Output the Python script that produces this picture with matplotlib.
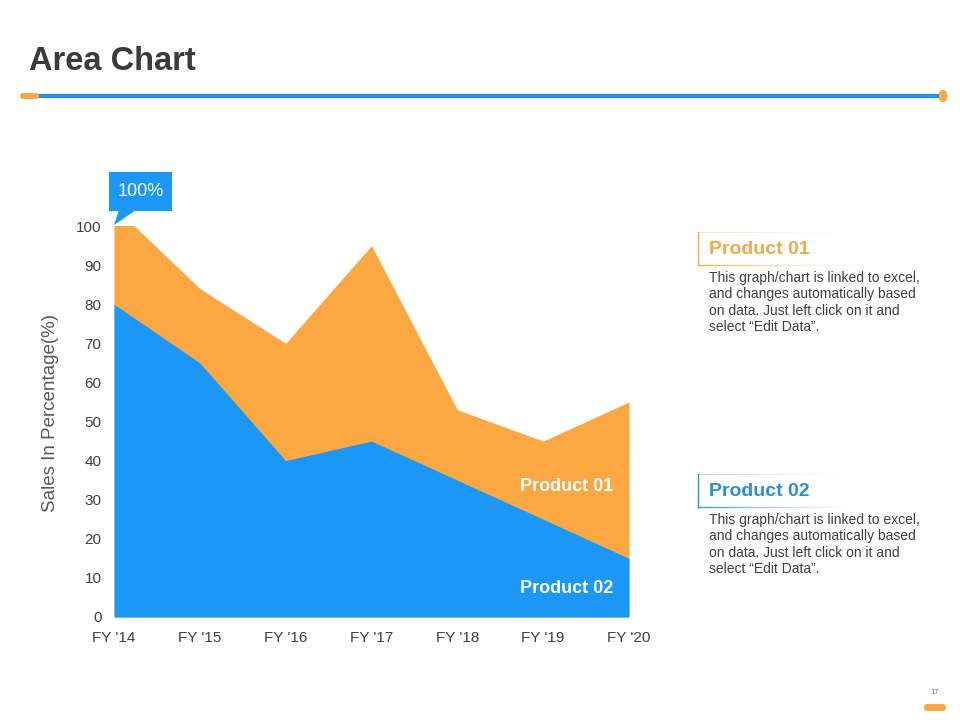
import matplotlib

matplotlib.use("Agg")
import matplotlib.pyplot as plt
from matplotlib.patches import FancyBboxPatch, Polygon, Rectangle

BLUE = "#1B98F7"
ORANGE = "#FBA843"
LINE_BLUE = "#2190E3"
INK = "#3B3B3B"
GREY = "#404040"

years = ["FY '14", "FY '15", "FY '16", "FY '17", "FY '18", "FY '19", "FY '20"]
product_01 = [105, 84, 70, 95, 53, 45, 55]
product_02 = [80, 65, 40, 45, 35, 25, 15]
y_ticks = [0, 10, 20, 30, 40, 50, 60, 70, 80, 90, 100]

desc = ("This graph/chart is linked to excel,\nand changes automatically based\n"
        "on data. Just left click on it and\nselect \u201cEdit Data\u201d.")

plt.rcParams["font.family"] = ["Liberation Sans", "DejaVu Sans"]

fig = plt.figure(figsize=(9.6, 7.2), dpi=100)
W, H = 960, 720

# chart
ax = fig.add_axes([114 / W, (H - 617) / H, (629 - 114) / W, (617 - 226) / H])
x = list(range(len(years)))
ax.fill_between(x, 0, product_01, color=ORANGE, linewidth=0, zorder=1)
ax.fill_between(x, 0, product_02, color=BLUE, linewidth=0, zorder=2)
ax.set_xlim(0, len(years) - 1)
ax.set_ylim(0, 100)
ax.set_xticks(x, years)
ax.set_yticks(y_ticks)
for s in ax.spines.values():
    s.set_visible(False)
ax.tick_params(length=0, labelsize=11, colors=GREY)
ax.tick_params(axis="x", pad=10)
ax.tick_params(axis="y", pad=9)
ax.set_ylabel("Sales In Percentage(%)", fontsize=13.5, color="#595959")
ax.yaxis.set_label_coords(-0.107, 0.523)
ax.text(5.27, 33.5, "Product 01", color="white", fontsize=13, fontweight="bold",
        ha="center", va="center", zorder=3)
ax.text(5.27, 7.3, "Product 02", color="white", fontsize=13, fontweight="bold",
        ha="center", va="center", zorder=3)

# overlay for slide decorations (pixel coords)
ov = fig.add_axes([0, 0, 1, 1], facecolor="none")
ov.set_xlim(0, W)
ov.set_ylim(H, 0)
ov.axis("off")

ov.text(29, 61, "Area Chart", fontsize=23.5, fontweight="bold", color=INK,
        va="center", ha="left")
ov.plot([30, 942], [96, 96], color=LINE_BLUE, lw=3, solid_capstyle="butt", zorder=1)
ov.add_patch(FancyBboxPatch((20, 93), 19, 6, boxstyle="round,pad=0,rounding_size=3",
                            fc=ORANGE, ec="none", zorder=2))
ov.add_patch(FancyBboxPatch((939, 90), 8, 12, boxstyle="round,pad=0,rounding_size=4",
                            fc=ORANGE, ec="none", zorder=2))

# callout
ov.add_patch(Rectangle((109, 172), 63, 39, fc=BLUE, ec="none"))
ov.add_patch(Polygon([(119, 210), (136, 210), (114, 225)], closed=True, fc=BLUE, ec="none"))
ov.text(140.5, 191, "100%", color="white", fontsize=13, ha="center", va="center")


def label_box(y0, title, color):
    x0, x1, h = 698, 860, 33
    ov.plot([x0, x0], [y0, y0 + h], color=color, lw=1)
    n = 60
    for i in range(n):
        xa = x0 + (x1 - x0) * i / n
        xb = x0 + (x1 - x0) * (i + 1) / n
        a = max(0.0, 1 - i / n) ** 1.5
        ov.plot([xa, xb], [y0, y0], color=color, lw=0.8, alpha=a * 0.35,
                solid_capstyle="butt")
        ov.plot([xa, xb], [y0 + h, y0 + h], color=color, lw=1, alpha=a,
                solid_capstyle="butt")
    ov.text(709, y0 + h / 2 + 0.5, title, color=color, fontsize=14,
            fontweight="bold", ha="left", va="center")
    ov.text(709, y0 + 39, desc, color=GREY, fontsize=10, ha="left", va="top",
            linespacing=1.22)


label_box(232, "Product 01", "#F3A947")
label_box(474, "Product 02", "#2A8FD8")

# page number
ov.text(935, 693, "17", fontsize=5.5, color="#666666", ha="center", va="center")
ov.add_patch(FancyBboxPatch((924, 704), 22, 7, boxstyle="round,pad=0,rounding_size=3.5",
                            fc=ORANGE, ec="none"))

fig.savefig("out.png", dpi=100, facecolor="white")
